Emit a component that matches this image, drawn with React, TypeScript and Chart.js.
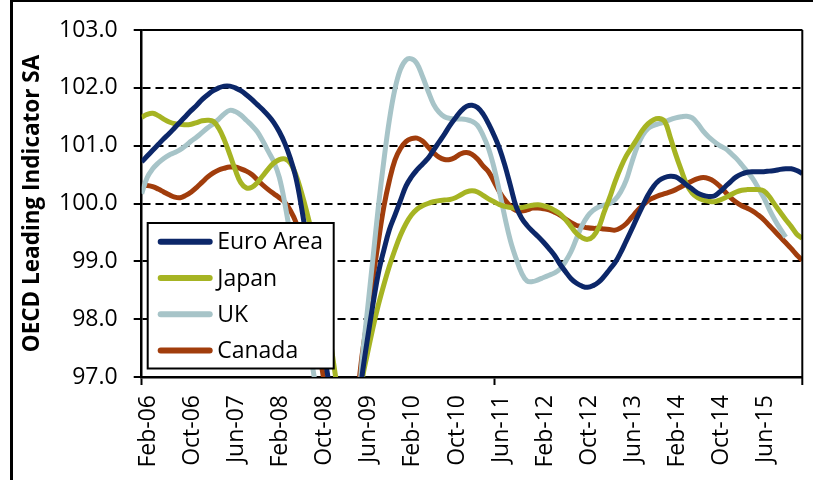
import React, { useEffect, useRef } from 'react';
import { Chart, registerables } from 'chart.js';

Chart.register(...registerables);

const CATEGORIES = (
  'Feb-06 Mar-06 Apr-06 May-06 Jun-06 Jul-06 Aug-06 Sep-06 Oct-06 Nov-06 Dec-06 ' +
  'Jan-07 Feb-07 Mar-07 Apr-07 May-07 Jun-07 Jul-07 Aug-07 Sep-07 Oct-07 Nov-07 Dec-07 ' +
  'Jan-08 Feb-08 Mar-08 Apr-08 May-08 Jun-08 Jul-08 Aug-08 Sep-08 Oct-08 Nov-08 Dec-08 ' +
  'Jan-09 Feb-09 Mar-09 Apr-09 May-09 Jun-09 Jul-09 Aug-09 Sep-09 Oct-09 Nov-09 Dec-09 ' +
  'Jan-10 Feb-10 Mar-10 Apr-10 May-10 Jun-10 Jul-10 Aug-10 Sep-10 Oct-10 Nov-10 Dec-10 ' +
  'Jan-11 Feb-11 Mar-11 Apr-11 May-11 Jun-11 Jul-11 Aug-11 Sep-11 Oct-11 Nov-11 Dec-11 ' +
  'Jan-12 Feb-12 Mar-12 Apr-12 May-12 Jun-12 Jul-12 Aug-12 Sep-12 Oct-12 Nov-12 Dec-12 ' +
  'Jan-13 Feb-13 Mar-13 Apr-13 May-13 Jun-13 Jul-13 Aug-13 Sep-13 Oct-13 Nov-13 Dec-13 ' +
  'Jan-14 Feb-14 Mar-14 Apr-14 May-14 Jun-14 Jul-14 Aug-14 Sep-14 Oct-14 Nov-14 Dec-14 ' +
  'Jan-15 Feb-15 Mar-15 Apr-15 May-15 Jun-15 Jul-15 Aug-15 Sep-15 Oct-15 Nov-15 Dec-15 ' +
  'Jan-16 Feb-16'
).split(' ');

const TICK_LABELS = [
  'Feb-06', 'Oct-06', 'Jun-07', 'Feb-08', 'Oct-08', 'Jun-09', 'Feb-10', 'Oct-10',
  'Jun-11', 'Feb-12', 'Oct-12', 'Jun-13', 'Feb-14', 'Oct-14', 'Jun-15',
];

const Y_MIN = 97;
const Y_MAX = 103;
const Y_STEP = 1;

const SERIES_NAMES = ['Euro Area', 'Japan', 'UK', 'Canada'];
const SERIES_COLORS = ['#0C2769', '#A6B423', '#A7C4C8', '#A13D0C'];

const EURO_AREA = [
  100.72, 100.82, 100.92, 101.02, 101.12, 101.21, 101.31, 101.41, 101.51, 101.61,
  101.70, 101.80, 101.88, 101.95, 102.00, 102.03, 102.03, 102.00, 101.95, 101.88,
  101.80, 101.71, 101.62, 101.52, 101.40, 101.24, 101.04, 100.78, 100.45, 99.95,
  99.35, 98.70, 98.10, 97.50, 96.90, 96.30, 95.80, 95.50, 95.60, 96.20,
  97.00, 97.65, 98.25, 98.80, 99.20, 99.55, 99.80, 100.05, 100.30, 100.46,
  100.58, 100.68, 100.78, 100.92, 101.06, 101.20, 101.35, 101.48, 101.60, 101.68,
  101.70, 101.66, 101.55, 101.38, 101.18, 100.95, 100.65, 100.30, 99.95, 99.75,
  99.62, 99.52, 99.43, 99.33, 99.22, 99.10, 98.95, 98.82, 98.70, 98.62,
  98.57, 98.55, 98.58, 98.64, 98.74, 98.86, 98.98, 99.15, 99.35, 99.55,
  99.76, 99.96, 100.15, 100.30, 100.40, 100.45, 100.47, 100.46, 100.40, 100.32,
  100.25, 100.18, 100.14, 100.12, 100.13, 100.20, 100.29, 100.38, 100.46, 100.51,
  100.54, 100.55, 100.55, 100.55, 100.56, 100.57, 100.59, 100.60, 100.60, 100.57,
  100.52,
];

const JAPAN = [
  101.49, 101.54, 101.56, 101.52, 101.46, 101.41, 101.38, 101.37, 101.36, 101.37,
  101.40, 101.43, 101.44, 101.42, 101.30, 101.10, 100.85, 100.58, 100.36, 100.27,
  100.28, 100.36, 100.48, 100.60, 100.70, 100.76, 100.77, 100.70, 100.50, 100.20,
  99.85, 99.45, 98.95, 98.40, 97.80, 97.15, 96.50, 95.90, 95.50, 95.60,
  96.90, 97.40, 97.85, 98.25, 98.60, 98.92, 99.20, 99.45, 99.65, 99.80,
  99.90, 99.96, 100.00, 100.03, 100.05, 100.06, 100.07, 100.10, 100.15, 100.20,
  100.22, 100.20, 100.14, 100.08, 100.03, 99.98, 99.95, 99.93, 99.92, 99.93,
  99.95, 99.97, 99.98, 99.96, 99.93, 99.88, 99.82, 99.72, 99.60, 99.48,
  99.41, 99.38, 99.43, 99.58, 99.85, 100.10, 100.38, 100.62, 100.82, 100.97,
  101.12, 101.27, 101.38, 101.45, 101.47, 101.42, 101.15, 100.85, 100.58, 100.33,
  100.18, 100.10, 100.06, 100.04, 100.03, 100.06, 100.10, 100.15, 100.20, 100.23,
  100.24, 100.24, 100.24, 100.22, 100.12, 99.98, 99.85, 99.72, 99.60, 99.47,
  99.40,
];

const UK = [
  100.17, 100.45, 100.60, 100.70, 100.78, 100.84, 100.88, 100.93, 101.00, 101.08,
  101.15, 101.23, 101.31, 101.38, 101.46, 101.55, 101.61, 101.59, 101.53, 101.44,
  101.35, 101.24, 101.08, 100.90, 100.72, 100.45, 100.00, 99.45, 98.90, 98.30,
  97.75, 97.20, 96.60, 96.00, 95.40, 94.90, 94.60, 94.60, 95.00, 95.90,
  97.25, 98.15, 99.05, 99.95, 100.75, 101.45, 101.98, 102.32, 102.48, 102.50,
  102.42, 102.20, 101.95, 101.72, 101.58, 101.50, 101.47, 101.46, 101.46, 101.45,
  101.42, 101.35, 101.18, 100.95, 100.62, 100.20, 99.75, 99.35, 99.05, 98.80,
  98.66, 98.65, 98.68, 98.72, 98.76, 98.80, 98.87, 99.00, 99.17, 99.40,
  99.62, 99.78, 99.88, 99.94, 99.97, 100.00, 100.07, 100.20, 100.40, 100.70,
  100.98, 101.18, 101.30, 101.35, 101.38, 101.41, 101.45, 101.48, 101.50, 101.51,
  101.48, 101.38, 101.25, 101.15, 101.07, 101.00, 100.95, 100.87, 100.78, 100.67,
  100.55, 100.43, 100.27, 100.10, 99.90, 99.72, 99.56, 99.42, null, null,
  null,
];

const CANADA = [
  100.30, 100.31, 100.29, 100.25, 100.20, 100.15, 100.11, 100.10, 100.14, 100.20,
  100.28, 100.37, 100.46, 100.53, 100.58, 100.61, 100.63, 100.63, 100.60, 100.56,
  100.50, 100.41, 100.32, 100.24, 100.17, 100.10, 100.02, 99.88, 99.68, 99.35,
  98.85, 98.25, 97.60, 97.00, 96.40, 95.90, 95.60, 95.50, 95.80, 96.50,
  97.35, 98.00, 98.70, 99.35, 99.95, 100.40, 100.75, 100.95, 101.07, 101.12,
  101.13, 101.08, 100.98, 100.88, 100.80, 100.76, 100.76, 100.80, 100.86, 100.88,
  100.85, 100.77, 100.65, 100.55, 100.38, 100.20, 100.06, 99.95, 99.88, 99.87,
  99.89, 99.92, 99.92, 99.91, 99.89, 99.85, 99.80, 99.73, 99.67, 99.62,
  99.60, 99.58, 99.57, 99.57, 99.56, 99.55, 99.54, 99.58, 99.65, 99.76,
  99.87, 99.97, 100.05, 100.10, 100.14, 100.17, 100.20, 100.24, 100.29, 100.34,
  100.39, 100.43, 100.45, 100.43, 100.38, 100.30, 100.20, 100.10, 100.02, 99.96,
  99.92, 99.87, 99.80, 99.72, 99.62, 99.52, 99.42, 99.32, 99.22, 99.11,
  99.02,
];

const SERIES_VALUES = [EURO_AREA, JAPAN, UK, CANADA];

const FONT = "'Open Sans', 'DejaVu Sans', sans-serif";

const framePlugin = {
  id: 'frame',
  beforeDraw(chart: any) {
    const { ctx, width, height } = chart;
    ctx.save();
    ctx.fillStyle = '#ffffff';
    ctx.fillRect(0, 0, width, height);
    ctx.fillStyle = '#000000';
    ctx.fillRect(10, 0, 3, height);
    ctx.fillRect(10, 0, width - 10, 2);
    ctx.restore();
  },
  afterDraw(chart: any) {
    const { ctx, chartArea } = chart;
    const { left, right, top, bottom } = chartArea;
    ctx.save();
    ctx.strokeStyle = '#000000';
    ctx.lineWidth = 1.5;
    ctx.beginPath();
    ctx.moveTo(left, top);
    ctx.lineTo(right, top);
    ctx.stroke();
    ctx.lineWidth = 2;
    ctx.beginPath();
    ctx.moveTo(right, top);
    ctx.lineTo(right, bottom + 8);
    ctx.stroke();
    ctx.restore();
  },
};

const insideLegend = {
  id: 'insideLegend',
  afterDatasetsDraw(chart: any) {
    const { ctx, chartArea } = chart;
    const x0 = chartArea.left + 6;
    const w = 186;
    const h = 145.5;
    const y0 = chartArea.bottom - 8.5 - h;
    const rowH = 36.3;
    ctx.save();
    ctx.fillStyle = '#ffffff';
    ctx.fillRect(x0, y0, w, h);
    ctx.strokeStyle = '#000000';
    ctx.lineWidth = 2;
    ctx.strokeRect(x0, y0, w, h);
    chart.data.datasets.forEach((ds: any, i: number) => {
      const cy = y0 + 18.7 + i * rowH;
      ctx.strokeStyle = ds.borderColor;
      ctx.lineWidth = 6;
      ctx.lineCap = 'round';
      ctx.beginPath();
      ctx.moveTo(x0 + 13, cy);
      ctx.lineTo(x0 + 62, cy);
      ctx.stroke();
      ctx.fillStyle = '#000000';
      ctx.font = `23px ${FONT}`;
      ctx.textBaseline = 'middle';
      ctx.textAlign = 'left';
      ctx.fillText(ds.label, x0 + 69.5, cy + 1);
    });
    ctx.restore();
  },
};

export default function App() {
  const canvasRef = useRef<HTMLCanvasElement | null>(null);

  useEffect(() => {
    if (!canvasRef.current) return;
    const lastIndex = CATEGORIES.length - 1;
    const chart = new Chart(canvasRef.current, {
      type: 'line',
      data: {
        labels: CATEGORIES,
        datasets: SERIES_NAMES.map((name, i) => ({
          label: name,
          data: SERIES_VALUES[i],
          borderColor: SERIES_COLORS[i],
          backgroundColor: SERIES_COLORS[i],
          borderWidth: 5,
          pointRadius: 0,
          pointHoverRadius: 0,
          tension: 0.4,
          fill: false,
          clip: 0,
          spanGaps: false,
        })),
      },
      options: {
        responsive: false,
        maintainAspectRatio: false,
        animation: false,
        devicePixelRatio: 1,
        layout: { padding: { left: 0, top: 30, right: 10.7, bottom: 0 } },
        plugins: {
          legend: { display: false },
          tooltip: { enabled: false },
        },
        scales: {
          x: {
            type: 'category',
            offset: false,
            afterFit: (scale: any) => {
              scale.height = 103;
            },
            grid: {
              display: true,
              drawOnChartArea: false,
              drawTicks: true,
              tickLength: 8,
              tickWidth: 2,
              color: '#000000',
              tickColor: (ctx: any) => {
                const c = CATEGORIES[ctx.index];
                return TICK_LABELS.includes(c) || ctx.index === lastIndex ? '#000000' : 'rgba(0,0,0,0)';
              },
            },
            border: { display: true, color: '#000000', width: 2.5 },
            ticks: {
              autoSkip: false,
              minRotation: 90,
              maxRotation: 90,
              padding: 10,
              labelOffset: 7,
              color: '#000000',
              font: { family: FONT, size: 23 },
              callback: (value: any, index: number) => {
                const c = CATEGORIES[index];
                return TICK_LABELS.includes(c) ? c : null;
              },
            },
          },
          y: {
            min: Y_MIN,
            max: Y_MAX,
            afterFit: (scale: any) => {
              scale.width = 141.7;
            },
            grid: {
              display: true,
              drawOnChartArea: true,
              drawTicks: true,
              tickLength: 8,
              tickWidth: 2,
              tickColor: '#000000',
              color: '#000000',
              lineWidth: 2,
            },
            border: {
              display: true,
              color: '#000000',
              width: 2.5,
              dash: (ctx: any) => (ctx.tick && ctx.tick.value === Y_MAX ? [] : [8, 5]),
            },
            ticks: {
              stepSize: Y_STEP,
              padding: 16,
              color: '#000000',
              font: { family: FONT, size: 23 },
              callback: (v: any) => Number(v).toFixed(1),
            },
            title: {
              display: true,
              text: 'OECD Leading Indicator SA',
              color: '#000000',
              font: { family: FONT, size: 22.5, weight: 'bold' },
              padding: { top: 19, bottom: 0 },
            },
          },
        },
      },
      plugins: [framePlugin, insideLegend],
    } as any);
    return () => chart.destroy();
  }, []);

  return (
    <div style={{ position: 'fixed', left: 0, top: 0, width: 813, height: 480, background: '#ffffff' }}>
      <canvas ref={canvasRef} width={813} height={480} style={{ width: 813, height: 480, display: 'block' }} />
    </div>
  );
}
